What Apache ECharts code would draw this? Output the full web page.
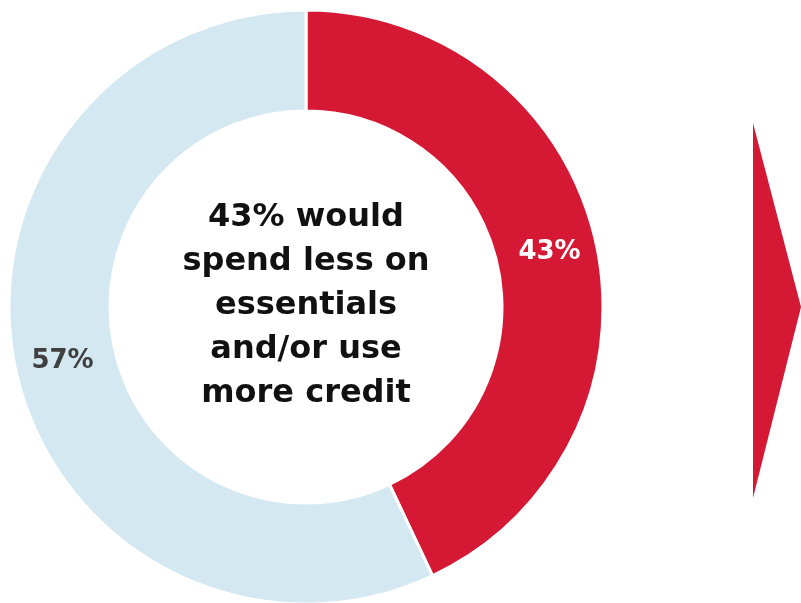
<!DOCTYPE html>
<html><head><meta charset="utf-8">
<script src="https://cdn.jsdelivr.net/npm/echarts@6/dist/echarts.min.js"></script>
<style>html,body{margin:0;padding:0;background:#fff}#c{width:801px;height:603px}</style>
</head><body><div id="c"></div>
<script>
const categories = ['Would spend less on essentials and/or use more credit', 'Other'];
const values = [43, 57];
const colors = ['#D51935', '#D3E8F1'];
const labelColors = ['#ffffff', '#404040'];
const centerText = ['43% would', 'spend less on', 'essentials', 'and/or use', 'more credit'];

const chart = echarts.init(document.getElementById('c'), null, {renderer: 'canvas'});
chart.setOption({
  animation: false,
  series: [{
    type: 'pie',
    center: [306, 307],
    radius: [196, 297],
    startAngle: 90,
    clockwise: true,
    silent: true,
    itemStyle: {borderColor: '#fff', borderWidth: 3},
    label: {
      show: true, position: 'inside',
      fontFamily: 'DejaVu Sans', fontWeight: 'bold', fontSize: 26,
      formatter: p => p.value + '%'
    },
    labelLine: {show: false},
    data: categories.map((n, i) => ({
      name: n, value: values[i],
      itemStyle: {color: colors[i]},
      label: {color: labelColors[i]}
    }))
  }],
  graphic: [
    {
      type: 'text', x: 306, y: 306,
      style: {
        text: centerText.join('\n'),
        fontFamily: 'DejaVu Sans', fontWeight: 'bold', fontSize: 32,
        lineHeight: 44, fill: '#111',
        align: 'center', verticalAlign: 'middle'
      }
    },
    {
      type: 'polygon',
      shape: {points: [[753, 123], [801, 307], [753, 498]]},
      style: {fill: '#D51935'}
    }
  ]
});
</script></body></html>
